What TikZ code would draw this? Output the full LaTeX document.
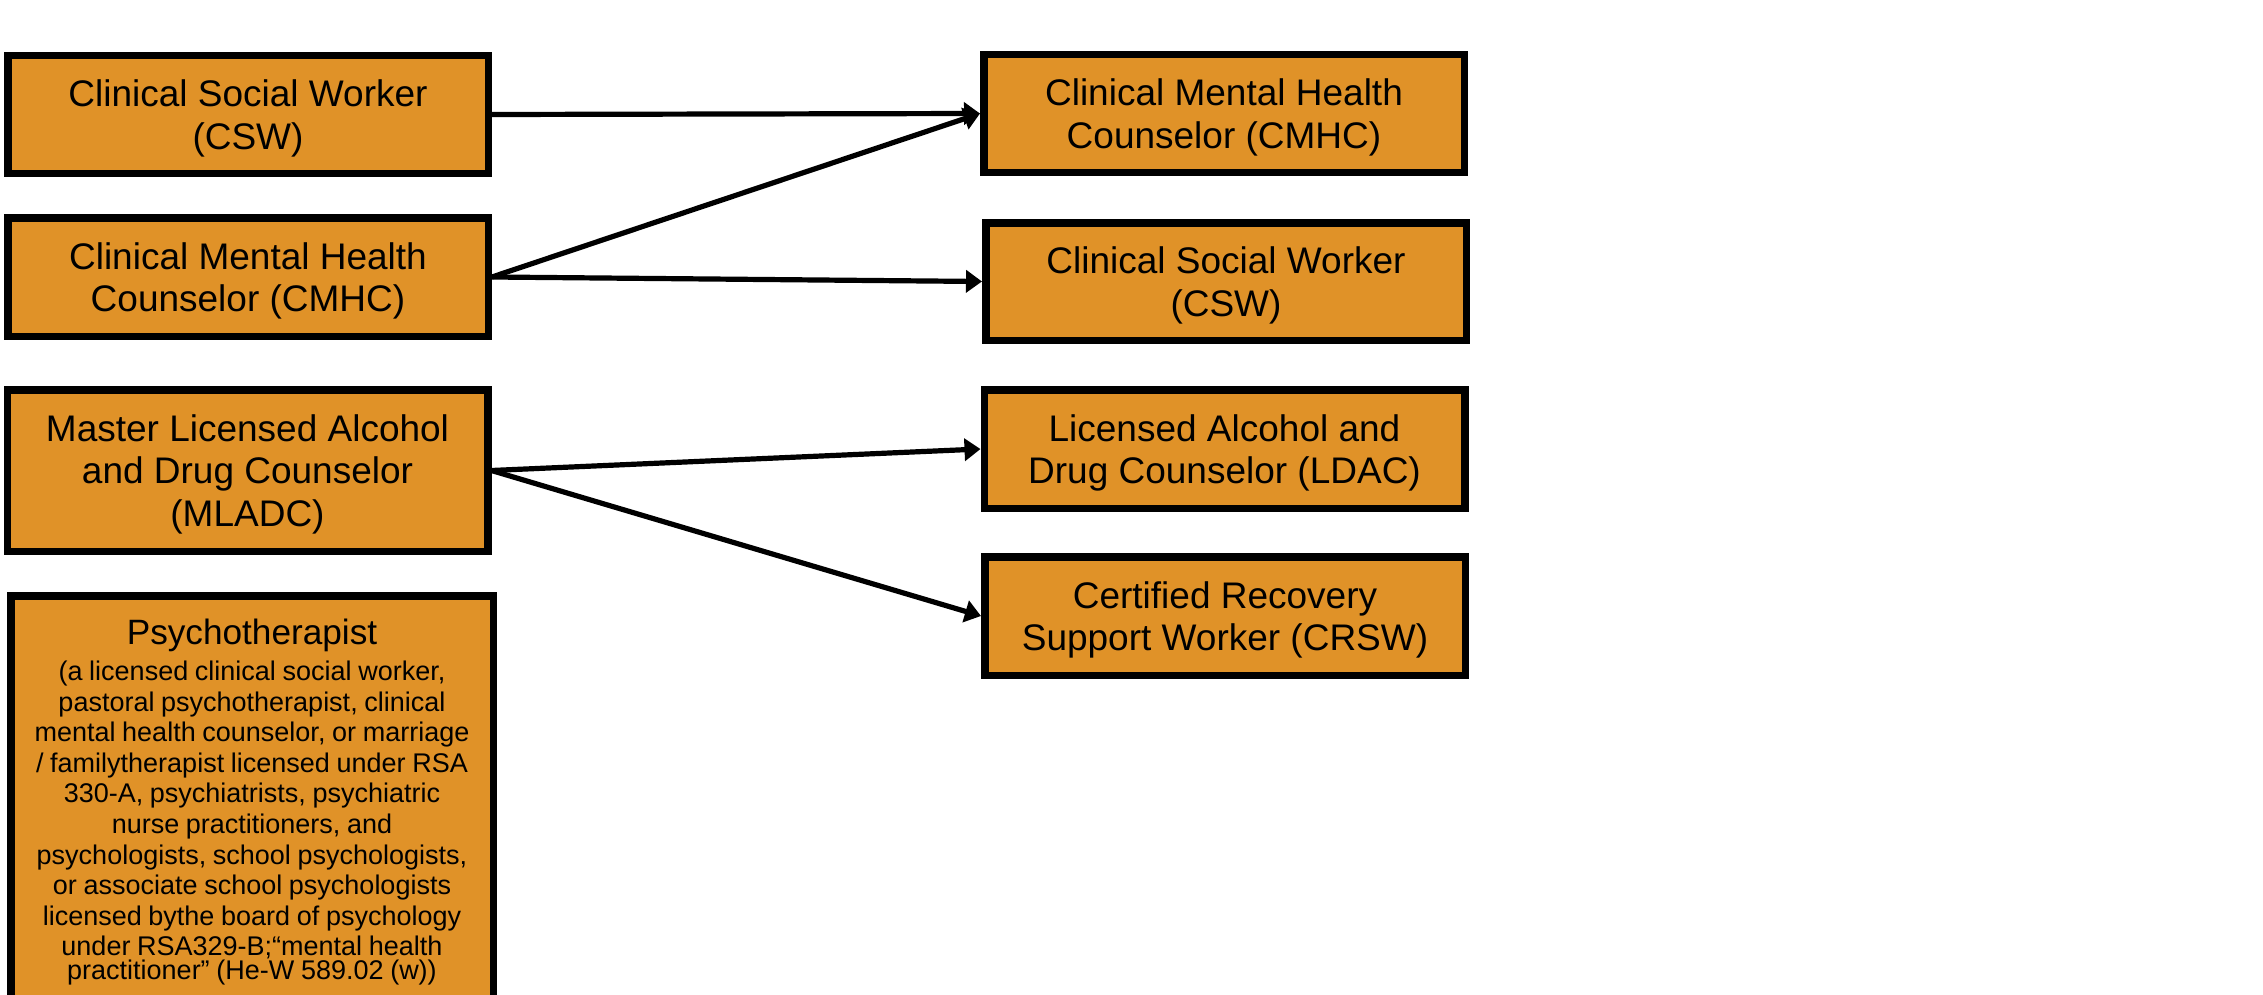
\documentclass[tikz,border=0pt]{standalone}
\usepackage{fontspec}
\setmainfont{Liberation Sans}
\usetikzlibrary{arrows.meta}
\definecolor{boxorange}{RGB}{224,146,40}
\begin{document}
\begin{tikzpicture}[x=0.5pt,y=-0.5pt,
  role/.style={draw=black, fill=boxorange, line width=3.75pt, minimum width=240.25pt,
    inner sep=0pt, align=center, text depth=0pt, font=\fontsize{18.5pt}{21.2pt}\selectfont},
  link/.style={line width=2.6pt, -{Triangle[length=8pt,width=11pt]}}]
\useasboundingbox (0,0) rectangle (2263,995);
\fill[white] (0,0) rectangle (2263,995);
\clip (0,0) rectangle (2263,995);
% left column
\node[role, minimum height=58.75pt] (lcsw) at (248,114.5) {Clinical Social Worker\\(CSW)};
\node[role, minimum height=59.25pt] (lcmhc) at (248,277) {Clinical Mental Health\\Counselor (CMHC)};
\node[role, minimum height=80.75pt] (lmladc) at (247.5,470.5) {Master Licensed Alcohol\\and Drug Counselor\\(MLADC)};
\node[role, minimum width=241.25pt, minimum height=252pt, anchor=north] (psy) at (252,592) {};
\node[anchor=north, text width=240pt, align=center, inner sep=0pt] (psytext) at (252,618.5)
  {\fontsize{17.6pt}{18pt}\selectfont Psychotherapist\\[2.7pt]
   \fontsize{13.5pt}{15.3pt}\selectfont
   (a licensed clinical social worker,\\
   pastoral psychotherapist, clinical\\
   mental health counselor, or marriage\\
   / familytherapist licensed under RSA\\
   330-A, psychiatrists, psychiatric\\
   nurse practitioners, and\\
   psychologists, school psychologists,\\
   or associate school psychologists\\
   licensed bythe board of psychology\\
   under RSA329-B;“mental health\\
   practitioner” (He-W 589.02 (w))};
% right column
\node[role, minimum height=58.75pt] (rcmhc) at (1224,113.5) {Clinical Mental Health\\Counselor (CMHC)};
\node[role, minimum height=58.75pt] (rcsw) at (1226,281.5) {Clinical Social Worker\\(CSW)};
\node[role, minimum height=59.25pt] (rldac) at (1224.5,449) {Licensed Alcohol and\\Drug Counselor (LDAC)};
\node[role, minimum height=59.25pt] (rcrsw) at (1225,616) {Certified Recovery\\Support Worker (CRSW)};
% connectors
\draw[link] (lcsw.east) -- (rcmhc.west);
\draw[link] (lcmhc.east) -- (rcmhc.west);
\draw[link] (lcmhc.east) -- (rcsw.west);
\draw[link] (lmladc.east) -- (rldac.west);
\draw[link] (lmladc.east) -- (rcrsw.west);
\end{tikzpicture}
\end{document}
